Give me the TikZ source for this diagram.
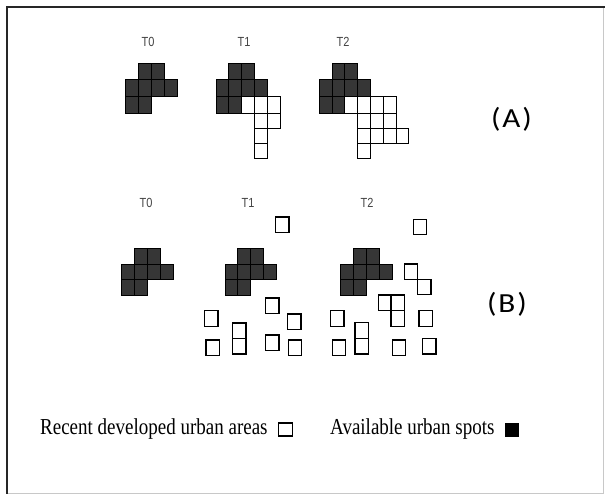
\documentclass[tikz,border=0pt]{standalone}
\usepackage{fontspec}
\setmainfont{Liberation Serif}
\newfontfamily\arialf{Liberation Sans}
\newfontfamily\calf{Carlito}
\definecolor{cellgray}{HTML}{363636}
\definecolor{labgray}{HTML}{444444}
\definecolor{framegray}{HTML}{C8C8C8}
\begin{document}
\begin{tikzpicture}[x=1pt,y=-1pt,
  darkcell/.style={draw=black,fill=cellgray,line width=0.9pt},
  newcell/.style={draw=black,fill=white,line width=0.9pt},
  spotcell/.style={draw=black,fill=white,line width=1.4pt},
  tlab/.style={font=\arialf\fontsize{11}{13}\selectfont,text=labgray,inner sep=0pt},
  biglab/.style={font=\calf\fontsize{24}{28}\selectfont,text=black,inner sep=0pt},
  legtext/.style={font=\fontsize{19}{22}\selectfont,inner sep=0pt,anchor=west}]
\useasboundingbox (0,0) rectangle (605,494);
% frame
\draw[framegray,line width=1pt] (603.5,7) -- (603.5,493) -- (7,493);
\draw[black!85,line width=1.6pt] (7,494) -- (7,7) -- (605,7);

% ---------- (A) ----------
\node[tlab] (a0) at (148,42) {\scalebox{1}[1.2]{T0}};
\node[tlab] (a1) at (244,42) {\scalebox{1}[1.2]{T1}};
\node[tlab] (a2) at (343,42) {\scalebox{1}[1.2]{T2}};
% T0
\foreach \c/\r in {1/0,2/0,0/1,1/1,2/1,3/1,0/2,1/2}
  \draw[darkcell] ({125+\c*13.2},{63.3+\r*16.6}) rectangle +(13.2,16.6);
% T1
\foreach \c/\r in {1/0,2/0,0/1,1/1,2/1,3/1,0/2,1/2}
  \draw[darkcell] ({216+\c*12.9},{63.3+\r*16.6}) rectangle +(12.9,16.6);
\foreach \c/\r in {2/2,3/2,4/2}
  \draw[newcell] ({216+\c*12.9},{63.3+\r*16.6}) rectangle +(12.9,16.6);
\foreach \c/\y in {3/113.3,4/113.3,3/128,3/143.3}
  \draw[newcell] ({216+\c*12.9},\y) rectangle +(12.9,15);
% T2
\foreach \c/\r in {1/0,2/0,0/1,1/1,2/1,3/1,0/2,1/2}
  \draw[darkcell] ({319.3+\c*12.8},{63.3+\r*16.6}) rectangle +(12.8,16.6);
\foreach \c/\r in {2/2,3/2,4/2,5/2}
  \draw[newcell] ({319.3+\c*12.8},{63.3+\r*16.6}) rectangle +(12.8,16.6);
\foreach \c/\y in {3/113.3,4/113.3,5/113.3,3/128,4/128,5/128,6/128,3/143.3}
  \draw[newcell] ({319.3+\c*12.8},\y) rectangle +(12.8,15);
\node[biglab] (la) at (511.5,119) {\scalebox{1.3}[1.15]{(\kern1.5pt A\kern1.5pt)}};

% ---------- (B) ----------
\node[tlab] (b0) at (146,203) {\scalebox{1}[1.2]{T0}};
\node[tlab] (b1) at (248,203) {\scalebox{1}[1.2]{T1}};
\node[tlab] (b2) at (367,203) {\scalebox{1}[1.2]{T2}};
\foreach \c/\r in {1/0,2/0,0/1,1/1,2/1,3/1,0/2,1/2}
  \draw[darkcell] ({121.7+\c*12.9},{248.3+\r*15.8}) rectangle +(12.9,15.8);
\foreach \c/\r in {1/0,2/0,0/1,1/1,2/1,3/1,0/2,1/2}
  \draw[darkcell] ({225+\c*12.75},{248.3+\r*15.8}) rectangle +(12.75,15.8);
\foreach \c/\r in {1/0,2/0,0/1,1/1,2/1,3/1,0/2,1/2}
  \draw[darkcell] ({340.7+\c*13},{248.3+\r*15.8}) rectangle +(13,15.8);
% T1 scattered new cells
\foreach \x/\y in {275.7/217,265.7/298,204.7/310.7,287.7/314,232.7/323,232.7/338.5,206/340,265.7/335,288.3/340}
  \draw[spotcell] (\x,\y) rectangle +(13.3,15.5);
% T2 scattered new cells
\foreach \x/\y in {413.3/219.3,404.3/264,417.7/279.3,378.3/295,391/295,391/310.7,330.7/310.7,419/310.7,355/322.7,355/338.3,332.3/340,392.3/340,422.7/338.3}
  \draw[spotcell] (\x,\y) rectangle +(13.3,15.5);
\node[biglab] (lb) at (507,304) {\scalebox{1.3}[1.15]{(\kern1.5pt B\kern1.5pt)}};

% ---------- legend ----------
\node[legtext] (t1) at (40,429.5) {\scalebox{1}[1.2]{Recent developed urban areas}};
\draw[spotcell,line width=1.2pt] (278.5,423) rectangle (292.5,436);
\node[legtext] (t2) at (330,429.5) {\scalebox{1}[1.2]{Available urban spots}};
\draw[fill=black,draw=black] (505,423) rectangle (518,436);
\end{tikzpicture}
\end{document}
